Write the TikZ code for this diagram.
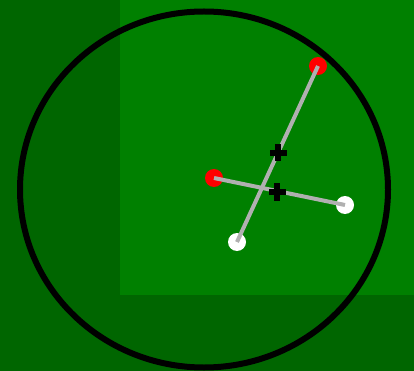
\documentclass[tikz,border=0pt]{standalone}
\begin{document}
\begin{tikzpicture}[x=1pt,y=-1pt,
  dot/.style={circle,minimum size=18pt,inner sep=0pt,draw=none},
  link/.style={draw={rgb,255:red,176;green,176;blue,176},line width=4pt},
  crossmark/.style={inner sep=0pt,minimum size=0pt}]
\definecolor{darkbg}{RGB}{0,102,0}
\definecolor{lightbg}{RGB}{0,128,0}
\useasboundingbox (0,0) rectangle (414,371);
\fill[darkbg] (0,0) rectangle (414,371);
\fill[lightbg] (120,0) rectangle (414,295);
\draw[line width=6pt,black] (204,189.5) ellipse [x radius=184, y radius=178];
\node[dot,fill=red] (r1) at (318,66) {};
\node[dot,fill=red] (r2) at (214,178) {};
\node[dot,fill=white] (w1) at (345,205) {};
\node[dot,fill=white] (w2) at (237,242) {};
\draw[link] (r1.center) -- (w2.center);
\draw[link] (r2.center) -- (w1.center);
\node[crossmark] (c1) at (278,153) {};
\node[crossmark] (c2) at (277,192) {};
\foreach \c in {c1,c2}{
  \fill[black] ([xshift=-8.5pt,yshift=-3pt]\c.center) rectangle ([xshift=8.5pt,yshift=3pt]\c.center);
  \fill[black] ([xshift=-3pt,yshift=-8.5pt]\c.center) rectangle ([xshift=3pt,yshift=8.5pt]\c.center);
}
\end{tikzpicture}
\end{document}
